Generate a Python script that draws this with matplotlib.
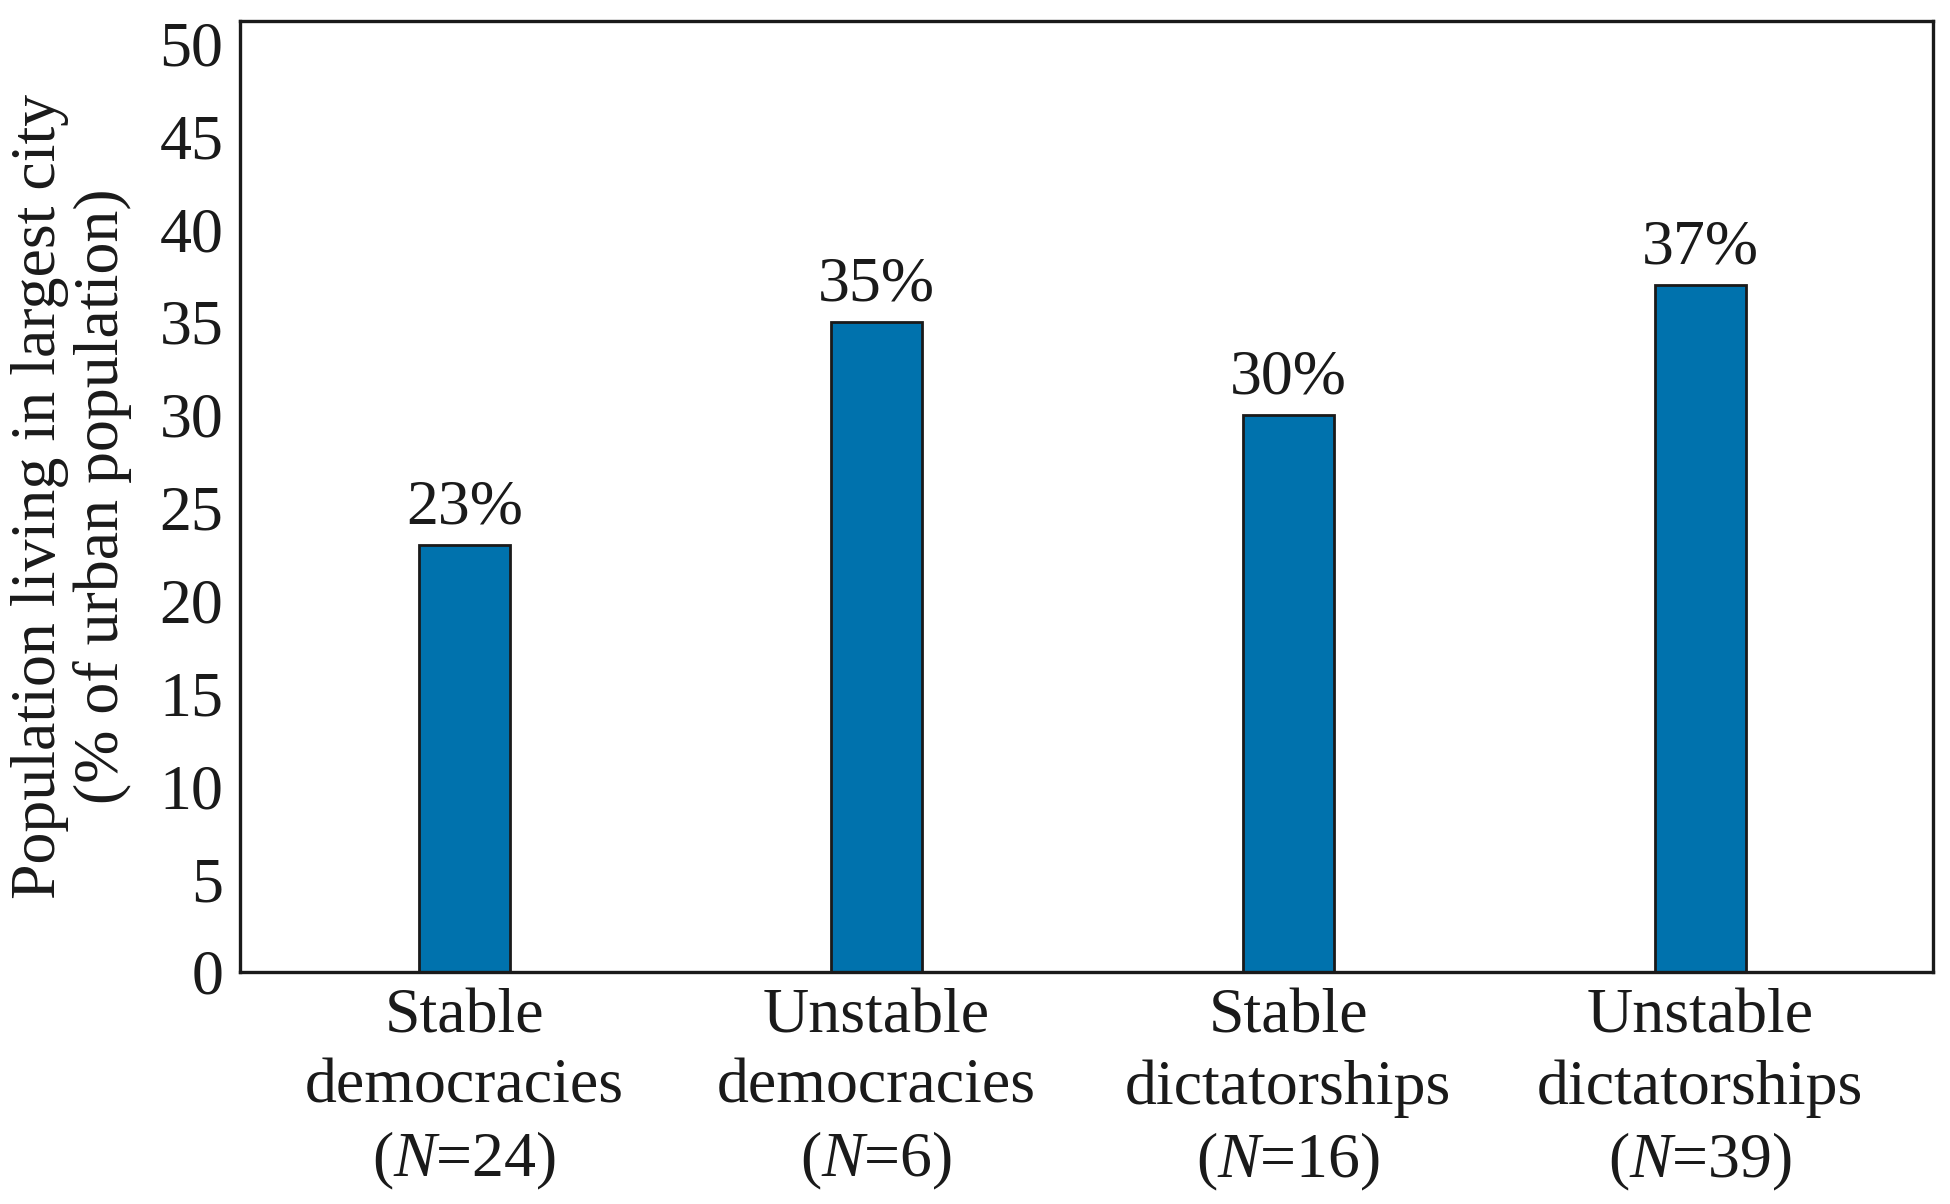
import matplotlib
matplotlib.use("Agg")
import matplotlib.pyplot as plt

categories = ["Stable\ndemocracies", "Unstable\ndemocracies", "Stable\ndictatorships", "Unstable\ndictatorships"]
n_values = [24, 6, 16, 39]
values = [23, 35, 30, 37]
value_labels = ["23%", "35%", "30%", "37%"]
yticks = [0, 5, 10, 15, 20, 25, 30, 35, 40, 45, 50]

plt.rcParams['font.family'] = ['Liberation Serif', 'DejaVu Serif']
plt.rcParams['mathtext.fontset'] = 'custom'
plt.rcParams['mathtext.rm'] = 'Liberation Serif'
plt.rcParams['mathtext.it'] = 'Liberation Serif:italic'

txt = '#1a1a1a'
fs = 46
fig = plt.figure(figsize=(19.5, 12.04), dpi=100)
ax = fig.add_axes([240/1950, 1 - 972/1204, (1933-240)/1950, (972-21)/1204])

x = list(range(len(values)))
bars = ax.bar(x, values, width=0.22, color='#0072ad', edgecolor=txt, linewidth=2.0, zorder=2)
for xi, v, lab in zip(x, values, value_labels):
    ax.annotate(lab, (xi, v), xytext=(0, 5), textcoords='offset points',
                ha='center', va='bottom', fontsize=fs, color=txt)

ax.set_xlim(-0.545, 3.565)
ax.set_ylim(0, 51.2)
ax.set_yticks(yticks)
ax.set_yticklabels([str(t) for t in yticks], fontsize=fs, color=txt)
ax.set_xticks(x)
ax.set_xticklabels([f"{c}\n" + r"($\mathit{N}$=" + f"{n})" for c, n in zip(categories, n_values)],
                   fontsize=fs, color=txt, linespacing=1.28)
ax.tick_params(axis='both', length=0, pad=12)
for s in ax.spines.values():
    s.set_linewidth(2.4)
    s.set_color(txt)
ax.set_ylabel("Population living in largest city\n(% of urban population)", fontsize=fs,
              color=txt, linespacing=1.08, labelpad=20)

fig.savefig("out.png", dpi=100)
